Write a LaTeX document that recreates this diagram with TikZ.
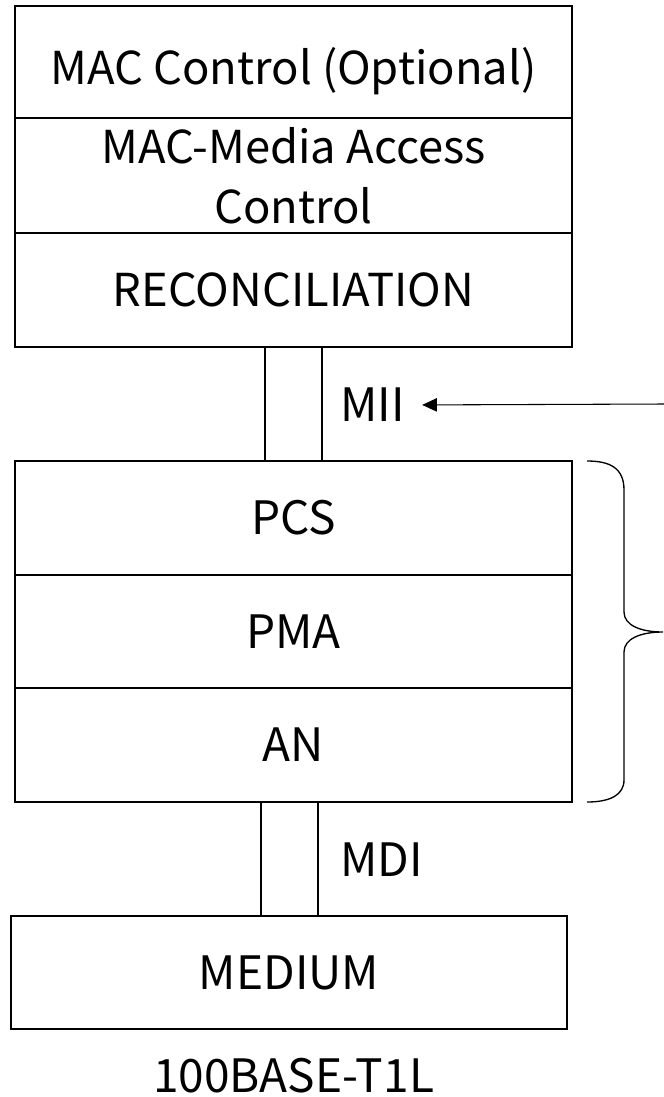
\documentclass[tikz,border=0pt]{standalone}
\usepackage{fontspec}
\setmainfont{Noto Sans CJK SC}
\usetikzlibrary{arrows.meta}

\tikzset{
  layer/.style={draw, line width=2.2pt, minimum width=417.75pt, inner sep=0pt, align=center},
  upper/.style={font=\fontsize{34}{45}\selectfont},
  lower/.style={font=\fontsize{34.5}{40}\selectfont},
  iface/.style={draw, line width=1.6pt, minimum width=42.75pt, minimum height=85.5pt, inner sep=0pt},
  tag/.style={lower, anchor=west, inner sep=0pt}
}

\begin{document}
\begin{tikzpicture}[x=0.75pt,y=0.75pt,yscale=-1,xscale=1]
\useasboundingbox (0,0) rectangle (664,1097);

%MAC side
\node [layer, upper, minimum height=84pt, text height=34pt, text depth=0pt] (ctrl) at (293.5,62) {MAC Control (Optional)};
\node [layer, upper, minimum height=86.25pt] (mac) at (293.5,175.5) {MAC-Media Access\\Control};
\node [layer, upper, minimum height=85.5pt] (recon) at (293.5,290) {RECONCILIATION};

%MII
\node [iface] (miibox) at (293.5,404) {};
\node [tag] (mii) at (340,405) {MII};
\coordinate (src) at (664,404);
\draw [line width=0.8pt, -{Triangle[length=11pt,width=10pt]}, shorten >=13pt] (src) -- (mii.east);

%PHY
\node [layer, lower, minimum height=85.5pt] (pcs) at (293.5,518) {PCS};
\node [layer, lower, minimum height=84.75pt] (pma) at (293.5,631.5) {PMA};
\node [layer, lower, minimum height=85.5pt] (an) at (293.5,745) {AN};

%Brace
\draw [line width=1pt] (587,461) .. controls (610,461) and (624,468) .. (624,490) -- (624,612) .. controls (624,625) and (640,632) .. (663,632) .. controls (640,632) and (624,639) .. (624,652) -- (624,780) .. controls (624,795) and (610,802) .. (587,802);

%MDI
\node [iface] (mdibox) at (289.5,859) {};
\node [tag] (mdi) at (340,860) {MDI};

%Medium
\node [layer, lower, minimum width=417pt, minimum height=84.75pt] (medium) at (289,972.5) {MEDIUM};
\node [lower, anchor=base] (phyname) at (293.5,1092) {100BASE-T1L};

\end{tikzpicture}
\end{document}
